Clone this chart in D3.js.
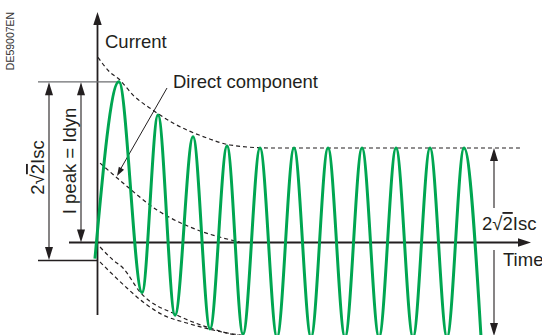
<!DOCTYPE html>
<html><head><meta charset="utf-8">
<script src="https://cdn.jsdelivr.net/npm/d3@7/dist/d3.min.js"></script>
<style>
html,body{margin:0;padding:0;background:#fff;}
svg{display:block;}
text{font-family:"Liberation Sans",Arial,Helvetica,sans-serif;fill:#231f20;}
</style></head>
<body>
<svg id="c" width="542" height="335"></svg>
<script>
// ---- data (time in ms, current in units of the steady peak √2·Isc) ----
const waveTime    = [-1.5, 12.6, 26.2, 35.6, 45.6, 56.2, 66.2, 76.2, 85.6, 95.6, 105.6, 115.6, 125.6, 135.6, 145.6, 155.6, 165.6, 175.6, 185.6, 195.6, 205.6, 215.6, 225.6];
const waveCurrent = [-0.17, 1.70, -0.53, 1.35, -0.77, 1.12, -0.915, 1.02, -0.97, 1.0, -1.0, 1.0, -1.0, 1.0, -1.0, 1.0, -1.0, 1.0, -1.0, 1.0, -1.0, 1.0, -1.0];

const upperEnvTime    = [0.3, 7.4, 12.6, 20.9, 32.6, 44.4, 64.4, 77.9, 101.4, 248.5];
const upperEnvCurrent = [1.96, 1.80, 1.73, 1.56, 1.40, 1.265, 1.106, 1.032, 1.0, 1.0];

const dcTime    = [1.5, 15.0, 35.0, 54.4, 73.8, 83.8];
const dcCurrent = [0.84, 0.63, 0.344, 0.164, 0.048, 0.005];

const lowerEnvTime    = [1.5, 9.1, 15.0, 25.0, 46.7, 66.2, 82.0, 89.7];
const lowerEnvCurrent = [-0.048, -0.185, -0.27, -0.524, -0.767, -0.905, -0.979, -0.99];

const lowerEnv2Time    = [1.5, 7.4, 17.3, 26.8, 38.5, 52.6, 67.9, 79.7, 89.7];
const lowerEnv2Current = [-0.206, -0.312, -0.481, -0.63, -0.767, -0.852, -0.926, -0.968, -0.99];

const labels = {
  yAxis: "Current", xAxis: "Time", dc: "Direct component",
  ipeak: "I peak = Idyn", code: "DE59007EN"
};

// ---- scales ----
const x = d3.scaleLinear().domain([0, 250]).range([97.5, 522.5]);
const y = d3.scaleLinear().domain([-1, 2]).range([337, 53.5]);

const svg = d3.select("#c");
const ink = "#231f20";
const green = "#00a651";

const toPts = (ts, vs) => ts.map((t, i) => [t, vs[i]]);
const line = d3.line().x(d => x(d[0])).y(d => y(d[1]));
const smooth = d3.line().x(d => x(d[0])).y(d => y(d[1])).curve(d3.curveMonotoneX);
const soft = d3.line().x(d => x(d[0])).y(d => y(d[1])).curve(d3.curveBasis);

// arrowhead helper (tip at (tx,ty), pointing in direction angle)
function arrowHead(g, tx, ty, dx, dy, len, half) {
  const L = Math.hypot(dx, dy), ux = dx / L, uy = dy / L;
  const bx = tx - ux * len, by = ty - uy * len;
  g.append("path")
    .attr("d", `M${tx},${ty}L${bx - uy * half},${by + ux * half}L${bx + uy * half},${by - ux * half}Z`)
    .attr("fill", ink);
}

// ---- dashed envelopes ----
const dashed = svg.append("g").attr("fill", "none").attr("stroke", ink)
  .attr("stroke-width", 1.2).attr("stroke-dasharray", "4,3");
dashed.append("path").attr("d", d3.line().x(d => x(d[0])).y(d => y(d[1])).curve(d3.curveMonotoneX)(toPts(upperEnvTime, upperEnvCurrent)));
dashed.append("path").attr("d", smooth(toPts(dcTime, dcCurrent)));
dashed.append("path").attr("d", smooth(toPts(lowerEnvTime, lowerEnvCurrent)));
dashed.append("path").attr("d", smooth(toPts(lowerEnv2Time, lowerEnv2Current)));

// ---- axes ----
const ax = svg.append("g");
const x0 = x(0), y0 = y(0);
ax.append("line").attr("x1", x0).attr("x2", x0).attr("y1", 315).attr("y2", 20)
  .attr("stroke", ink).attr("stroke-width", 1.8);
arrowHead(ax, x0, 12, 0, -1, 13, 4.2);
ax.append("line").attr("x1", 69).attr("x2", 522).attr("y1", y0).attr("y2", y0)
  .attr("stroke", ink).attr("stroke-width", 1.8);
arrowHead(ax, 531, y0, 1, 0, 13, 4.2);

// ---- reference lines & dimension arrows (left) ----
const peakY = y(d3.max(waveCurrent));
const ann = svg.append("g");
ann.append("line").attr("x1", 38).attr("x2", x(12.6) + 1).attr("y1", peakY).attr("y2", peakY)
  .attr("stroke", "#6d6e71").attr("stroke-width", 1.3);
ann.append("line").attr("x1", 38).attr("x2", x0).attr("y1", 260.5).attr("y2", 260.5)
  .attr("stroke", ink).attr("stroke-width", 1.3);
// outer arrow
ann.append("line").attr("x1", 49).attr("x2", 49).attr("y1", peakY + 8).attr("y2", 252)
  .attr("stroke", ink).attr("stroke-width", 1.1);
arrowHead(ann, 49, peakY + 0.5, 0, -1, 13, 4);
arrowHead(ann, 49, 260, 0, 1, 13, 4);
// inner arrow
ann.append("line").attr("x1", 81).attr("x2", 81).attr("y1", peakY + 8).attr("y2", 235)
  .attr("stroke", ink).attr("stroke-width", 1.1);
arrowHead(ann, 81, peakY + 0.5, 0, -1, 13, 4);
arrowHead(ann, 81, y0, 0, 1, 13, 4);

// right arrow
const rx = 494;
ann.append("line").attr("x1", rx).attr("x2", rx).attr("y1", y(1) + 8).attr("y2", 208)
  .attr("stroke", ink).attr("stroke-width", 1.1);
ann.append("line").attr("x1", rx).attr("x2", rx).attr("y1", 250).attr("y2", y(-1) - 8)
  .attr("stroke", ink).attr("stroke-width", 1.1);
arrowHead(ann, rx, y(1), 0, -1, 13, 4);
arrowHead(ann, rx, y(-1) - 1, 0, 1, 13, 4);

// direct component pointer
ann.append("line").attr("x1", 167).attr("y1", 88).attr("x2", 120).attr("y2", 170)
  .attr("stroke", ink).attr("stroke-width", 1);
arrowHead(ann, 117, 176, -50, 88, 9, 3);

// ---- waveform ----
svg.append("path").attr("d", smooth(toPts(waveTime, waveCurrent)))
  .attr("fill", "none").attr("stroke", green).attr("stroke-width", 3)
  .attr("stroke-linejoin", "round");

// ---- text ----
const fs = "18.5px";
svg.append("text").attr("x", 105).attr("y", 48).style("font-size", fs).text(labels.yAxis);
svg.append("text").attr("x", 173).attr("y", 88).style("font-size", fs).text(labels.dc);
svg.append("text").attr("x", 503).attr("y", 266).style("font-size", fs).text(labels.xAxis);

function sqrtLabel(sel) {
  sel.append("tspan").text("2√");
  sel.append("tspan").style("text-decoration", "overline").text("2");
  sel.append("tspan").text("Isc");
}
sqrtLabel(svg.append("text").attr("x", 482).attr("y", 230).style("font-size", fs));
sqrtLabel(svg.append("text").attr("transform", "translate(44,167.5) rotate(-90)")
  .attr("text-anchor", "middle").style("font-size", fs));
svg.append("text").attr("transform", "translate(75.5,161) rotate(-90)")
  .attr("text-anchor", "middle").style("font-size", fs).text(labels.ipeak);
svg.append("text").attr("transform", "translate(14,41) rotate(-90)")
  .attr("text-anchor", "middle").style("font-size", "10.5px").style("fill", "#333")
  .text(labels.code);
</script>
</body></html>
